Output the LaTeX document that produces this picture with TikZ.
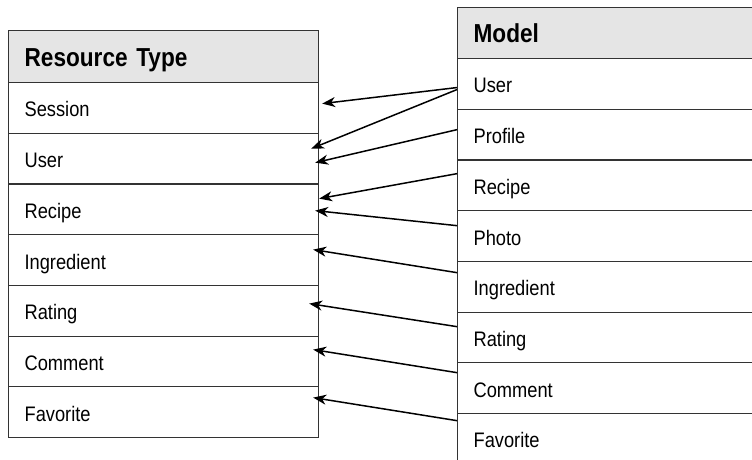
\documentclass[tikz,border=0pt]{standalone}
\usepackage{fontspec}
\setmainfont[FakeStretch=0.87]{Liberation Sans}
\usetikzlibrary{arrows.meta}
\definecolor{headgray}{rgb}{0.9, 0.9, 0.9}
\definecolor{linegray}{rgb}{0.2, 0.2, 0.2}

\begin{document}
\begin{tikzpicture}[x=1pt,y=1pt,
		cell/.style={draw=linegray, line width=1.2pt, anchor=north west, minimum height=50.7pt, inner xsep=16pt, align=left, text height=18pt, text depth=0pt, font=\fontsize{21}{25}\selectfont},
		head/.style={cell, fill=headgray, text height=19.5pt, font=\fontsize{26}{30}\selectfont\bfseries},
		link/.style={line width=1.5pt, -{Stealth[length=13pt,width=10pt,inset=4pt]}}]
		\clip (0,0) rectangle (752,-459);
		% resource types
		\node[head, text width=278pt, minimum height=52pt] (rt) at (8,-30) {Resource Type};
		\foreach \i/\name in {1/Session, 2/User, 3/Recipe, 4/Ingredient, 5/Rating, 6/Comment, 7/Favorite}{
			\node[cell, text width=278pt] (r\i) at (8,{-82-(\i-1)*50.7}) {\name};
		}
		% models
		\node[head, text width=288pt, minimum height=51pt] (md) at (457,-7) {Model};
		\foreach \i/\name in {1/User, 2/Profile, 3/Recipe, 4/Photo, 5/Ingredient, 6/Rating, 7/Comment, 8/Favorite}{
			\node[cell, text width=288pt] (m\i) at (457,{-58-(\i-1)*50.7}) {\name};
		}
		% model -> resource type
		\foreach \a/\ay/\b/\bx/\by in {m1/-3.6/r1/3/4.35, m1/-5.6/r2/-8/10, m2/5/r2/-4/-4, m3/11.7/r3/0/10.75, m4/10.4/r3/-4/-1.25, m5/14.1/r4/-6/10.45, m6/10.8/r5/-10/7.15, m7/15.5/r6/-6/11.85, m8/18.2/r7/-6/14.55}{
			\draw[link] ([yshift=\ay pt]\a.west) -- ([xshift=\bx pt,yshift=\by pt]\b.east);
		}
\end{tikzpicture}
\end{document}
